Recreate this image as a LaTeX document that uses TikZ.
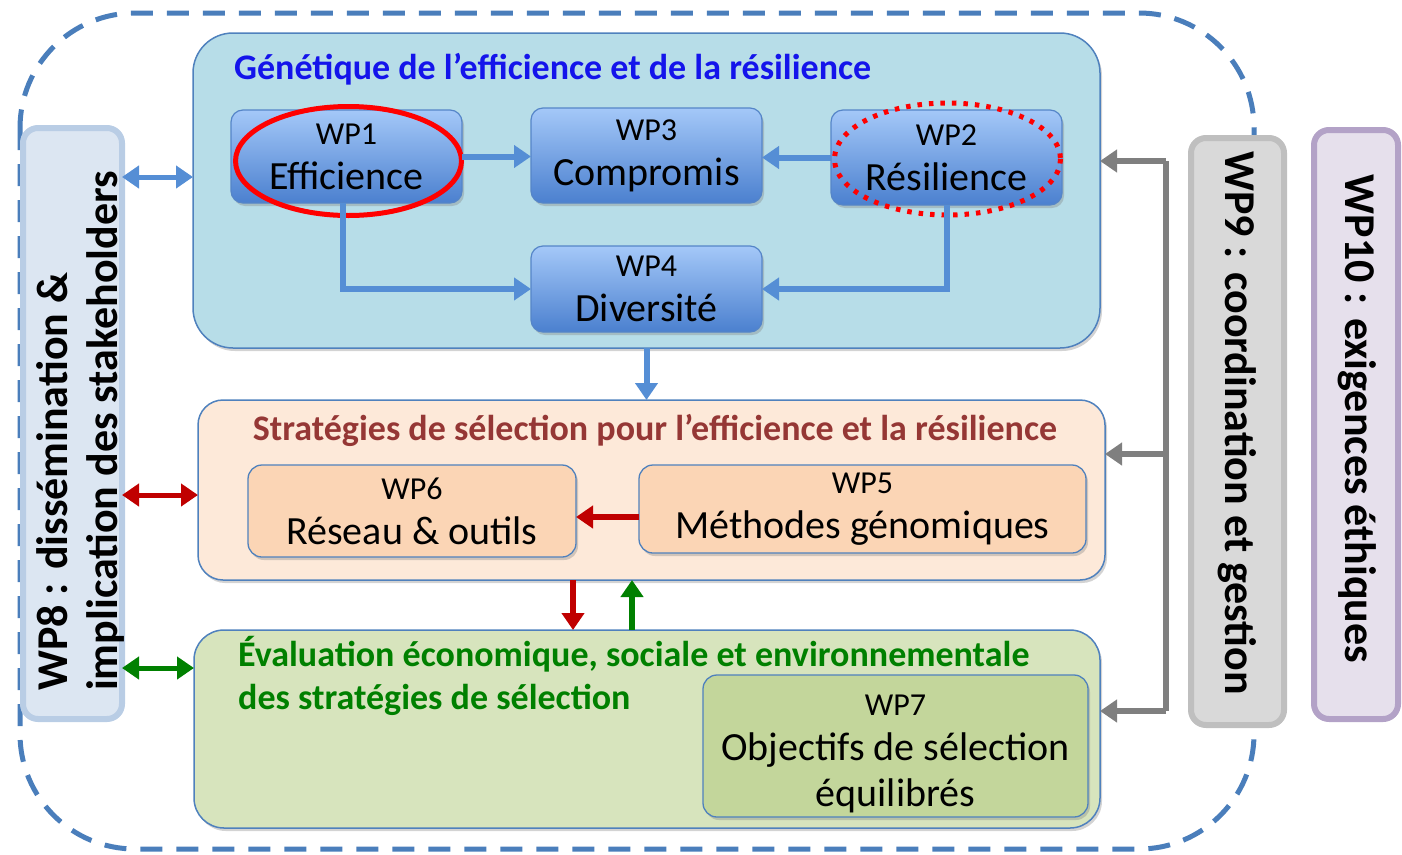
\documentclass[tikz,border=0pt]{standalone}
\usepackage{fontspec}
\setmainfont{Carlito}
\usetikzlibrary{arrows.meta,shadows,calc}
\definecolor{outerblue}{RGB}{74,126,187}
\definecolor{topfill}{RGB}{183,221,232}
\definecolor{boxborder}{RGB}{79,129,189}
\definecolor{titleblue}{RGB}{20,20,235}
\definecolor{wptop}{RGB}{164,200,248}
\definecolor{wpbot}{RGB}{75,128,207}
\definecolor{wpborder}{RGB}{85,133,200}
\definecolor{arrblue}{RGB}{85,142,213}
\definecolor{midfill}{RGB}{253,233,217}
\definecolor{midtitle}{RGB}{149,55,53}
\definecolor{midinner}{RGB}{251,213,181}
\definecolor{arrred}{RGB}{192,0,0}
\definecolor{arrgreen}{RGB}{0,128,0}
\definecolor{botfill}{RGB}{215,228,189}
\definecolor{botinner}{RGB}{195,214,155}
\definecolor{bottitle}{RGB}{0,128,0}
\definecolor{wpeightfill}{RGB}{220,230,242}
\definecolor{wpeightborder}{RGB}{185,205,229}
\definecolor{wpninefill}{RGB}{217,217,217}
\definecolor{wpnineborder}{RGB}{191,191,191}
\definecolor{wptenfill}{RGB}{230,224,236}
\definecolor{wptenborder}{RGB}{179,162,199}
\definecolor{arrgray}{RGB}{127,127,127}
\newcommand\wplab[1]{{\fontsize{32}{36}\selectfont #1}}
\begin{document}
\begin{tikzpicture}[x=1pt,y=-1pt,
  bigbox/.style={draw=boxborder, line width=1.5pt, inner sep=0pt, outer sep=0pt,
    drop shadow={shadow xshift=2pt, shadow yshift=-3pt, opacity=0.35}},
  wpbox/.style={draw=wpborder, line width=1.2pt, rounded corners=12, inner sep=0pt, outer sep=0pt,
    top color=wptop, bottom color=wpbot, align=center,
    font=\fontsize{40}{45}\selectfont,
    drop shadow={shadow xshift=2pt, shadow yshift=-3pt, opacity=0.35}},
  innerbox/.style={draw=boxborder, line width=1.3pt, rounded corners=14, inner sep=0pt, outer sep=0pt,
    align=center, font=\fontsize{40}{45}\selectfont,
    drop shadow={shadow xshift=2pt, shadow yshift=-3pt, opacity=0.35}},
  sidebox/.style={line width=6pt, rounded corners=15, inner sep=0pt, outer sep=0pt},
  sidetext/.style={font=\bfseries\fontsize{44}{50}\selectfont, inner sep=0pt},
  barrow/.style={draw=arrblue, line width=6pt, -{Triangle[length=17pt,width=22pt]}},
  dblarrow/.style={line width=5pt, {Triangle[length=17pt,width=22pt]}-{Triangle[length=17pt,width=22pt]}},
  rarrow/.style={draw=arrred, line width=6pt, -{Triangle[length=17pt,width=22pt]}},
  garrow/.style={draw=arrgreen, line width=6pt, -{Triangle[length=17pt,width=22pt]}},
  grayarrow/.style={draw=arrgray, line width=6pt, -{Triangle[length=17pt,width=22pt]}},
  grayline/.style={draw=arrgray, line width=6pt, line cap=square}
]
\useasboundingbox (0,0) rectangle (1402,854);
% outer dashed frame
\draw[outerblue, line width=5pt, dash pattern=on 22pt off 14pt, rounded corners=115] (20,13) rectangle (1254,849);

% top group
\node[bigbox, fill=topfill, rounded corners=40, minimum width=907, minimum height=315] (topbox) at (646.5,190.5) {};
\node[anchor=west, text=titleblue, font=\bfseries\fontsize{36}{40}\selectfont, inner sep=0pt] (toptitle) at (234,69) {Génétique de l’efficience et de la résilience};
\node[wpbox, minimum width=231, minimum height=93] (wp1) at (346.5,156.5) {\wplab{WP1}\\Efficience};
\node[wpbox, minimum width=231, minimum height=95] (wp3) at (646.5,155.5) {\wplab{WP3}\\Compromis};
\node[wpbox, minimum width=231, minimum height=95] (wp2) at (946.5,157.5) {\wplab{WP2}\\Résilience};
\node[wpbox, minimum width=231, minimum height=86] (wp4) at (646.5,289) {\wplab{WP4}\\Diversité};
\draw[red, line width=5pt] (348.5,161) ellipse [x radius=113, y radius=54.5];
\draw[red, line width=5pt, dash pattern=on 4.5pt off 7pt] (947.5,159) ellipse [x radius=113, y radius=56];
\draw[barrow] (wp1.east) -- (wp1.east -| wp3.west);
\draw[barrow] (wp2.west) -- (wp2.west -| wp3.east);
\draw[barrow] ([xshift=-4pt]wp1.south) |- (wp4.west);
\draw[barrow] (wp2.south) |- (wp4.east);

% middle group
\node[bigbox, fill=midfill, rounded corners=25, minimum width=907, minimum height=180] (midbox) at (651.5,490) {};
\node[text=midtitle, font=\bfseries\fontsize{36}{40}\selectfont, inner sep=0pt] (midtitle) at (655,430) {Stratégies de sélection pour l’efficience et la résilience};
\node[innerbox, fill=midinner, minimum width=328, minimum height=92] (wp6) at (412,511) {\wplab{WP6}\\Réseau \& outils};
\node[innerbox, fill=midinner, minimum width=447, minimum height=88] (wp5) at (862.5,509) {\wplab{WP5}\\Méthodes génomiques};
\draw[rarrow] (wp5.west |- 0,517) -- (wp6.east |- 0,517);
\draw[barrow] (topbox.south -| wp4.south) -- (midbox.north -| wp4.south);

% bottom group
\node[bigbox, fill=botfill, rounded corners=30, minimum width=906, minimum height=198] (botbox) at (647,729) {};
\node[anchor=west, align=left, text=bottitle, font=\bfseries\fontsize{36}{43}\selectfont, inner sep=0pt] (bottitle) at (238,676) {Évaluation économique, sociale et environnementale\\des stratégies de sélection};
\node[innerbox, fill=botinner, minimum width=385, minimum height=142] (wp7) at (895.5,746) {\rule{0pt}{36pt}\wplab{WP7}\\Objectifs de sélection\\[1pt]équilibrés};
\coordinate (xr) at (573,0);
\coordinate (xg) at (632,0);
\draw[rarrow] (xr |- midbox.south) -- (xr |- botbox.north);
\draw[garrow] (xg |- botbox.north) -- (xg |- midbox.south);

% side boxes
\node[sidebox, draw=wpeightborder, fill=wpeightfill, minimum width=99, minimum height=591] (wp8) at (72.5,423.5) {};
\node[sidetext, rotate=90, align=left] (wp8text) at (80,431) {WP8 : dissémination \&\\implication des stakeholders};
\node[sidebox, draw=wpnineborder, fill=wpninefill, minimum width=93, minimum height=587] (wp9) at (1237.5,431.5) {};
\node[sidetext, rotate=-90] (wp9text) at (1237,423) {WP9 : coordination et gestion};
\node[sidebox, draw=wptenborder, fill=wptenfill, minimum width=84, minimum height=589] (wp10) at (1356,424.5) {};
\node[sidetext, rotate=-90] (wp10text) at (1357,419) {WP10 : exigences éthiques};

% left double arrows
\coordinate (ya) at (0,177);
\coordinate (yb) at (0,495);
\coordinate (yc) at (0,668);
\draw[dblarrow, draw=arrblue, fill=arrblue] (wp8.east |- ya) -- (topbox.west |- ya);
\draw[dblarrow, draw=arrred, fill=arrred] (wp8.east |- yb) -- (midbox.west |- yb);
\draw[dblarrow, draw=arrgreen, fill=arrgreen] (wp8.east |- yc) -- (botbox.west |- yc);

% gray coordination arrows
\coordinate (g1) at (1166,161);
\coordinate (g2) at (1166,454);
\coordinate (g3) at (1166,711);
\draw[grayline] (g1) -- (g3);
\draw[grayarrow] (g1) -- (topbox.east |- g1);
\draw[grayarrow] (g2) -- (midbox.east |- g2);
\draw[grayarrow] (g3) -- (botbox.east |- g3);
\end{tikzpicture}
\end{document}
